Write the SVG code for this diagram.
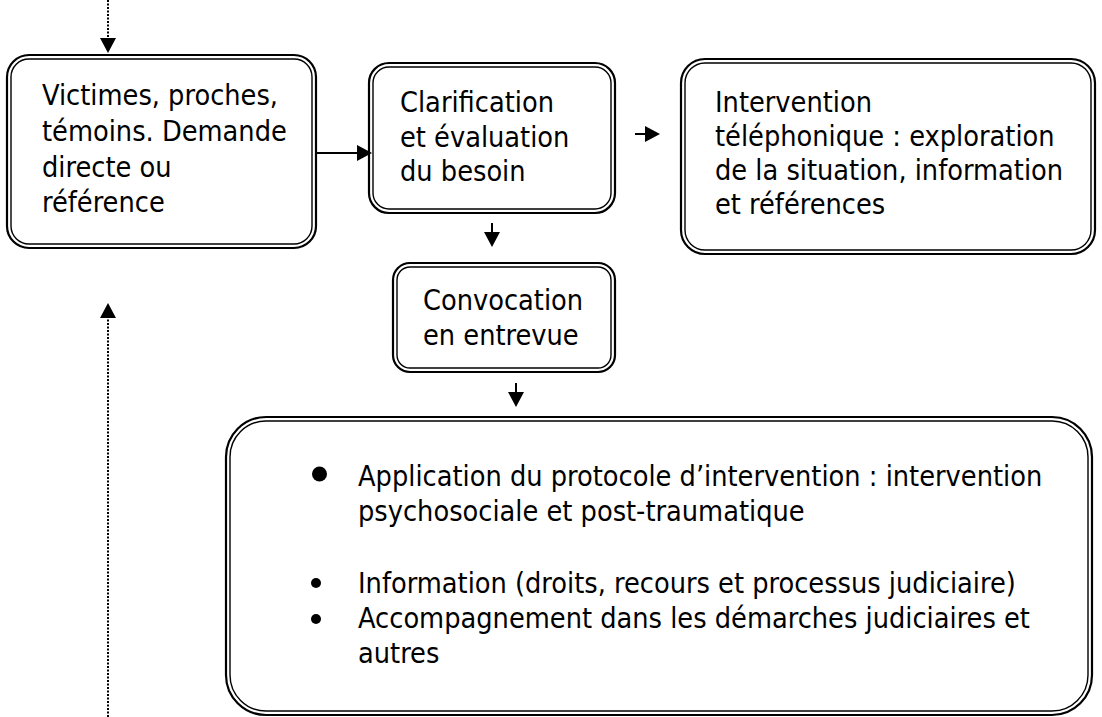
<svg xmlns="http://www.w3.org/2000/svg" width="1102" height="717" viewBox="0 0 1102 717">
<style>
.o{fill:none;stroke:#000;stroke-width:2.2}
.i{fill:none;stroke:#000;stroke-width:1.4}
.t{font-family:"DejaVu Sans Condensed","DejaVu Sans",sans-serif;font-stretch:condensed;font-size:28.6px;fill:#000}
.c{fill:none;stroke:#000;stroke-width:2}
.d{fill:none;stroke:#000;stroke-width:2;stroke-dasharray:2 1.5}
</style>
<defs>
<marker id="ah" markerUnits="userSpaceOnUse" markerWidth="16" markerHeight="16" refX="0" refY="8" orient="auto" viewBox="0 0 16 16"><path d="M0,0 L15,8 L0,16 z" fill="#000"/></marker>
</defs>
<rect width="1102" height="717" fill="#fff"/>
<g id="connectors">
<path class="d" d="M108,0 V38" marker-end="url(#ah)"/>
<path class="d" d="M108,717 V318" marker-end="url(#ah)"/>
<path class="c" d="M317,153 H357" marker-end="url(#ah)"/>
<path class="c" d="M635,134 H645" marker-end="url(#ah)"/>
<path class="c" d="M492,223 V232" marker-end="url(#ah)"/>
<path class="c" d="M516,383 V392" marker-end="url(#ah)"/>
</g>
<g id="victimes">
<rect class="o" x="7" y="55" width="309" height="193" rx="22"/>
<rect class="i" x="11" y="59" width="301" height="185" rx="18"/>
<text class="t" x="42" y="105">Victimes, proches,</text>
<text class="t" x="42" y="141">témoins. Demande</text>
<text class="t" x="42" y="177">directe ou</text>
<text class="t" x="42" y="212">référence</text>
</g>
<g id="clarification">
<rect class="o" x="369" y="63" width="246" height="150" rx="20"/>
<rect class="i" x="373" y="67" width="238" height="142" rx="16"/>
<text class="t" x="400" y="112">Clarification</text>
<text class="t" x="400" y="147">et évaluation</text>
<text class="t" x="400" y="181">du besoin</text>
</g>
<g id="intervention-tel">
<rect class="o" x="681" y="59" width="414" height="195" rx="24"/>
<rect class="i" x="685" y="63" width="406" height="187" rx="20"/>
<text class="t" x="715" y="112">Intervention</text>
<text class="t" x="715" y="146">téléphonique : exploration</text>
<text class="t" x="715" y="180">de la situation, information</text>
<text class="t" x="715" y="214">et références</text>
</g>
<g id="convocation">
<rect class="o" x="393" y="263" width="222" height="109" rx="17"/>
<rect class="i" x="397" y="267" width="214" height="101" rx="13"/>
<text class="t" x="423" y="310">Convocation</text>
<text class="t" x="423" y="345">en entrevue</text>
</g>
<g id="protocole">
<rect class="o" x="226" y="417" width="866" height="298" rx="40"/>
<rect class="i" x="230" y="421" width="858" height="290" rx="36"/>
<circle cx="319.5" cy="474" r="7.5"/>
<circle cx="316" cy="583" r="5"/>
<circle cx="316" cy="619" r="5"/>
<text class="t" x="358" y="486">Application du protocole d’intervention : intervention</text>
<text class="t" x="358" y="521">psychosociale et post-traumatique</text>
<text class="t" x="358" y="593">Information (droits, recours et processus judiciaire)</text>
<text class="t" x="358" y="628">Accompagnement dans les démarches judiciaires et</text>
<text class="t" x="358" y="663">autres</text>
</g>
</svg>
